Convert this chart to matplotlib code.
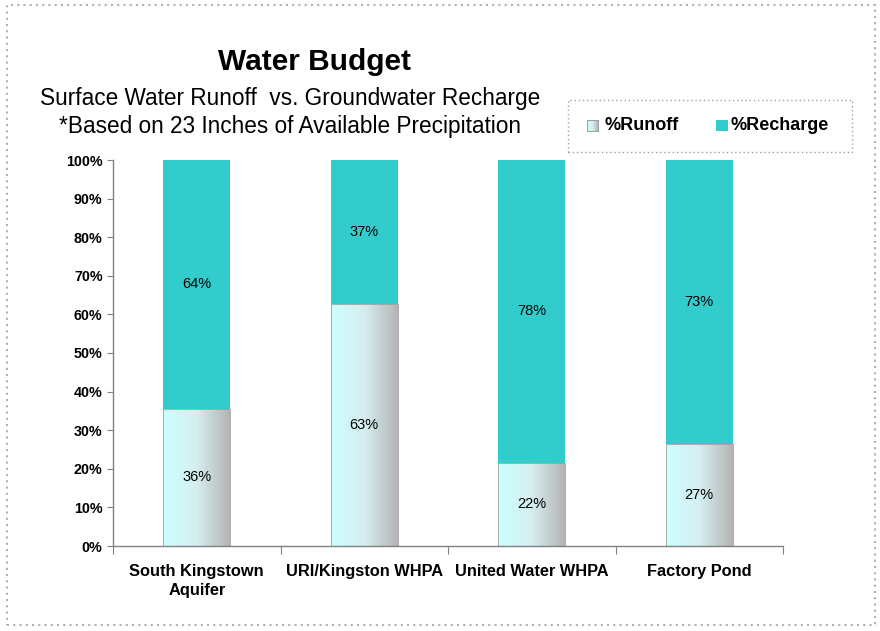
import numpy as np
import matplotlib.pyplot as plt
from matplotlib.patches import Rectangle
from matplotlib.colors import LinearSegmentedColormap

plt.rcParams['font.family'] = ['Liberation Sans', 'DejaVu Sans']

categories = ['South Kingstown\nAquifer', 'URI/Kingston WHPA', 'United Water WHPA', 'Factory Pond']
runoff = [35.5, 62.8, 21.6, 26.5]
recharge = [64.5, 37.2, 78.4, 73.5]
runoff_labels = ['36%', '63%', '22%', '27%']
recharge_labels = ['64%', '37%', '78%', '73%']
yticks = [0, 10, 20, 30, 40, 50, 60, 70, 80, 90, 100]

teal = '#33cccc'
grad = LinearSegmentedColormap.from_list('runoff', ['#ccffff', '#d6eef0', '#b4b4b4'])

fig = plt.figure(figsize=(8.8, 6.31), dpi=100)
ax = fig.add_axes([113 / 880, 1 - 546 / 631, 670 / 880, 386 / 631])

x = np.arange(len(categories))
w = 0.4
bars = ax.bar(x, runoff, w, color='none', edgecolor='#a0a0a0', linewidth=0.6, zorder=2)
ax.bar(x, recharge, w, bottom=runoff, color=teal, edgecolor='none', zorder=2)

# gradient fill for runoff bars
g = np.linspace(0, 1, 256).reshape(1, -1)
for b in bars:
    x0, y0 = b.get_x(), b.get_y()
    im = ax.imshow(g, cmap=grad, aspect='auto', zorder=1,
                   extent=[x0, x0 + b.get_width(), y0, y0 + b.get_height()])
    im.set_clip_path(Rectangle((x0, y0), b.get_width(), b.get_height(), transform=ax.transData))

for i in range(len(x)):
    ax.text(x[i], runoff[i] / 2, runoff_labels[i], ha='center', va='center', fontsize=10.5, zorder=3)
    ax.text(x[i], runoff[i] + recharge[i] / 2, recharge_labels[i], ha='center', va='center', fontsize=10.5, zorder=3)

ax.set_xlim(-0.5, len(x) - 0.5)
ax.set_ylim(0, 100)
ax.set_yticks(yticks)
ax.set_yticklabels([f'{t}%' for t in yticks], fontsize=10.3, fontweight='bold')
ax.set_xticks(np.arange(-0.5, len(x)), minor=False)
ax.set_xticklabels([])
ax.set_xticks(x, minor=True)
ax.set_xticklabels(categories, minor=True, fontsize=11.8, fontweight='bold', linespacing=1.3)
ax.tick_params(axis='x', which='major', length=6, color='#808080', direction='out')
ax.tick_params(axis='x', which='minor', length=0, pad=13)
ax.tick_params(axis='y', length=4, color='#808080', direction='out')
for s in ['top', 'right']:
    ax.spines[s].set_visible(False)
for s in ['left', 'bottom']:
    ax.spines[s].set_color('#808080')
    ax.spines[s].set_linewidth(1.0)

fig.text(314 / 880, 1 - 62 / 631, 'Water Budget', ha='center', va='center', fontsize=21.5, fontweight='bold')
fig.text(290 / 880, 1 - 98 / 631, 'Surface Water Runoff  vs. Groundwater Recharge', ha='center', va='center', fontsize=16.3)
fig.text(290 / 880, 1 - 126 / 631, '*Based on 23 Inches of Available Precipitation', ha='center', va='center', fontsize=16.3)

# legend box
fig.patches.append(Rectangle((568 / 880, 1 - 152 / 631), 284 / 880, 52 / 631, transform=fig.transFigure,
                             fill=False, edgecolor='#a0a0a0', linestyle=(0, (1, 2)), linewidth=1))
lg = fig.add_axes([587 / 880, 1 - 131 / 631, 11 / 880, 11 / 631])
lg.imshow(g, cmap=grad, aspect='auto')
lg.set_xticks([]); lg.set_yticks([])
for s in lg.spines.values():
    s.set_color('#909090'); s.set_linewidth(0.6)
fig.text(604 / 880, 1 - 126 / 631, '%Runoff', ha='left', va='center', fontsize=13, fontweight='bold')
fig.patches.append(Rectangle((716 / 880, 1 - 131 / 631), 12 / 880, 11 / 631, transform=fig.transFigure,
                             facecolor=teal, edgecolor='none'))
fig.text(730 / 880, 1 - 126 / 631, '%Recharge', ha='left', va='center', fontsize=13, fontweight='bold')

# dotted outer border
fig.patches.append(Rectangle((7 / 880, 1 - 625 / 631), 868 / 880, 620 / 631, transform=fig.transFigure,
                             fill=False, edgecolor='#b0b0b0', linestyle=(0, (1, 2)), linewidth=1.5))

fig.savefig('out.png', dpi=100)
